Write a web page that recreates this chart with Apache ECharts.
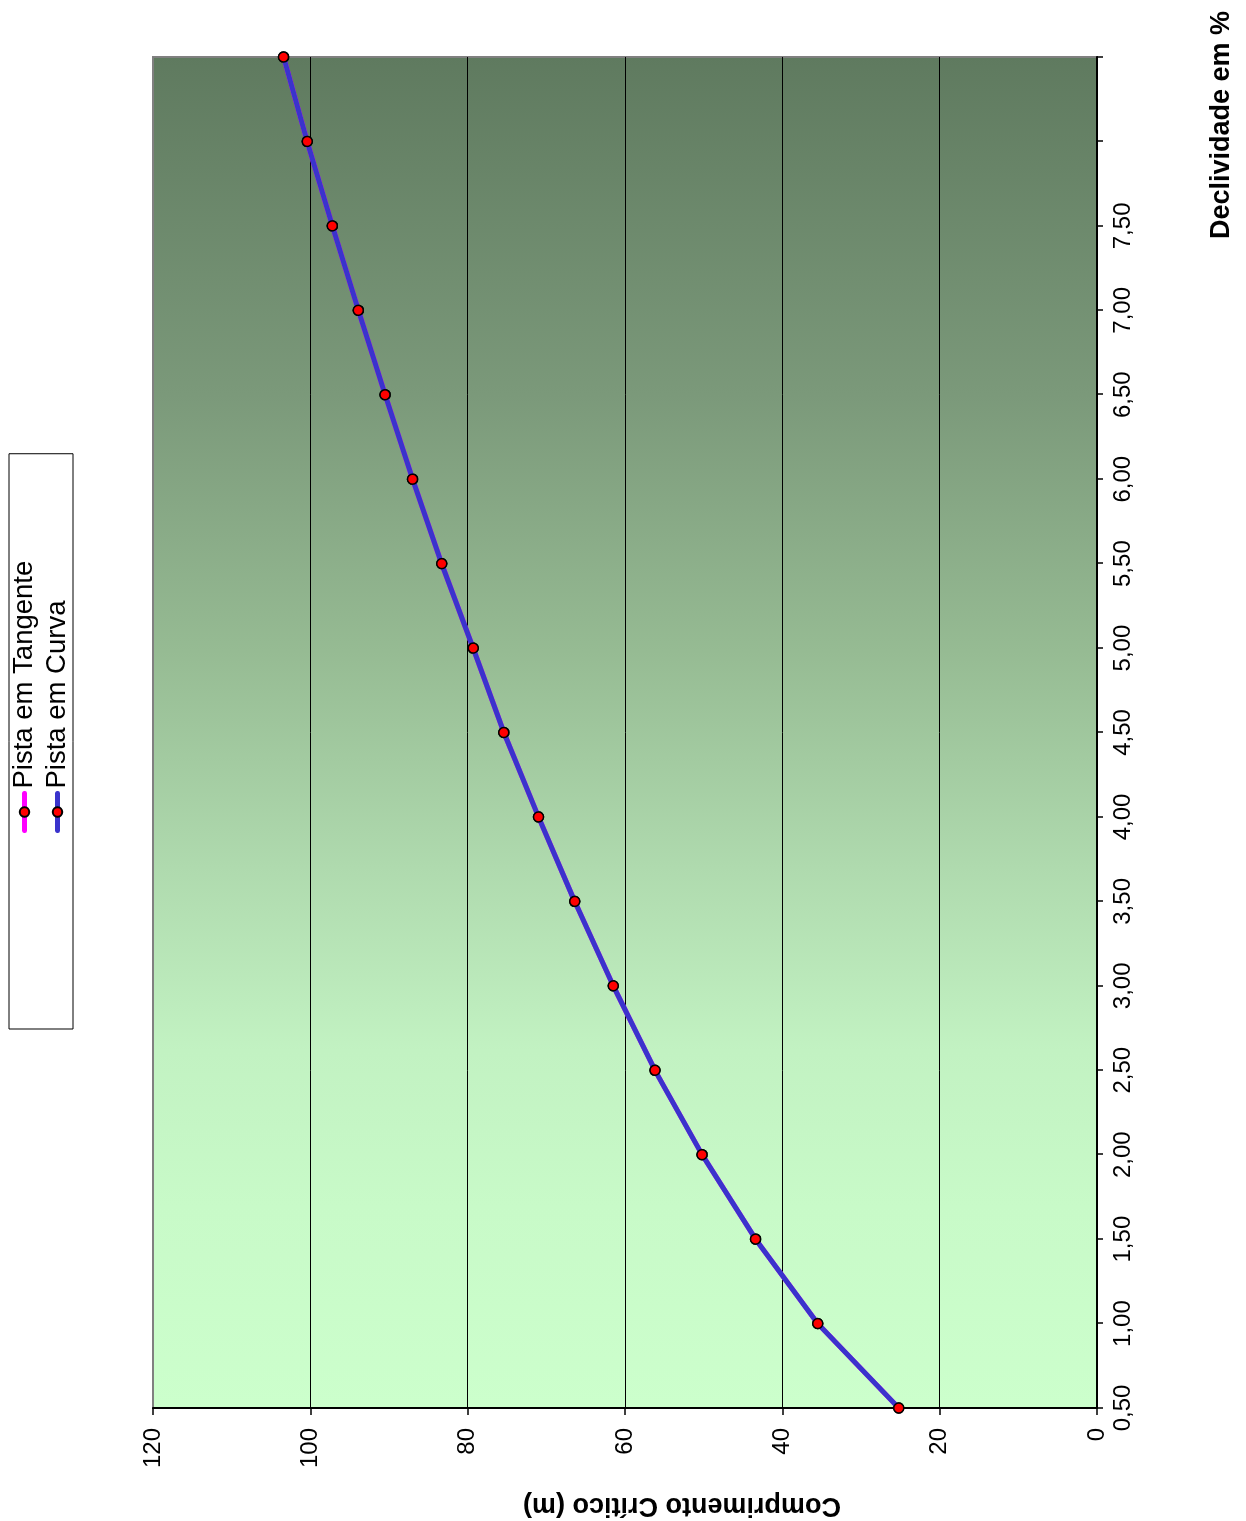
<!DOCTYPE html>
<html>
<head>
<meta charset="utf-8">
<script src="https://cdn.jsdelivr.net/npm/echarts@6/dist/echarts.min.js"></script>
<style>
  html, body { margin: 0; padding: 0; width: 1246px; height: 1521px; overflow: hidden; background: #ffffff; }
  /* the chart is laid out landscape and turned a quarter turn counter-clockwise onto the page */
  #chart {
    position: absolute; left: 0; top: 0;
    width: 1521px; height: 1246px;
    transform-origin: 0 0;
    transform: translate(0, 1521px) rotate(-90deg);
  }
</style>
</head>
<body>
<div id="chart"></div>
<script>
// Declividade (%) – the last two positions carry no label
const declividade = ['0,50', '1,00', '1,50', '2,00', '2,50', '3,00', '3,50', '4,00',
                     '4,50', '5,00', '5,50', '6,00', '6,50', '7,00', '7,50', '', ''];

// Comprimento crítico (m)
const pistaTangente = [25.2, 35.5, 43.4, 50.2, 56.2, 61.5, 66.4, 71.0,
                       75.4, 79.3, 83.3, 87.0, 90.5, 93.9, 97.2, 100.4, 103.4];
const pistaCurva    = [25.2, 35.5, 43.4, 50.2, 56.2, 61.5, 66.4, 71.0,
                       75.4, 79.3, 83.3, 87.0, 90.5, 93.9, 97.2, 100.4, 103.4];

const valueMin = 0, valueMax = 120, valueStep = 20;

const FONT = '"Liberation Sans", Arial, Helvetica, sans-serif';

const chart = echarts.init(document.getElementById('chart'), null, { renderer: 'canvas' });

const markerStyle = { color: '#ff0000', borderColor: '#000000', borderWidth: 1.5 };

chart.setOption({
  animation: false,
  backgroundColor: '#ffffff',
  grid: {
    left: 113, right: 57, top: 153, bottom: 149,
    show: true,
    borderColor: '#808080',
    borderWidth: 2,
    backgroundColor: {
      type: 'linear', x: 0, y: 0, x2: 1, y2: 0,
      colorStops: [
        { offset: 0.00, color: '#ccffcc' },
        { offset: 0.15, color: '#c8fac8' },
        { offset: 0.265, color: '#c2f2c2' },
        { offset: 0.40, color: '#afdaae' },
        { offset: 0.56, color: '#96bb93' },
        { offset: 0.75, color: '#7b997a' },
        { offset: 1.00, color: '#5f7a5f' }
      ]
    }
  },
  legend: {
    orient: 'vertical',
    left: 492, top: 9,
    padding: [0, 107, 0, 196],
    borderColor: '#000000', borderWidth: 1,
    itemWidth: 37, itemHeight: 12, itemGap: 2,
    lineStyle: { width: 5, cap: 'round' },
    textStyle: { fontFamily: FONT, fontSize: 27.5, lineHeight: 31, color: '#000000' },
    data: ['Pista em Tangente', 'Pista em Curva']
  },
  xAxis: {
    type: 'category',
    data: declividade,
    boundaryGap: false,
    axisLine: { show: true, lineStyle: { color: '#000000', width: 2 } },
    axisTick: { show: true, inside: false, length: 6, interval: 0, lineStyle: { color: '#000000', width: 1.5 } },
    axisLabel: { interval: 0, margin: 14, fontFamily: FONT, fontSize: 24, color: '#000000' },
    splitLine: { show: false }
  },
  yAxis: {
    type: 'value',
    min: valueMin, max: valueMax, interval: valueStep,
    axisLine: { show: true, lineStyle: { color: '#000000', width: 2 } },
    axisTick: { show: true, inside: false, length: 7, lineStyle: { color: '#000000', width: 1.5 } },
    axisLabel: { margin: 20, fontFamily: FONT, fontSize: 24, color: '#000000' },
    splitLine: { show: true, showMaxLine: false, lineStyle: { color: '#000000', width: 1 } }
  },
  series: [
    {
      name: 'Pista em Tangente',
      type: 'line',
      data: pistaTangente,
      symbol: 'circle', symbolSize: 10,
      lineStyle: { color: '#ff00ff', width: 5 },
      itemStyle: markerStyle,
      z: 2
    },
    {
      name: 'Pista em Curva',
      type: 'line',
      data: pistaCurva,
      symbol: 'circle', symbolSize: 10,
      lineStyle: { color: '#3a33cc', width: 5 },
      itemStyle: markerStyle,
      z: 3
    }
  ],
  graphic: [
    {
      type: 'text',
      x: 16, y: 682,
      rotation: Math.PI / 2,
      style: {
        text: 'Comprimento Crítico (m)',
        fontFamily: FONT, fontSize: 27, fontWeight: 'bold',
        fill: '#000000', textAlign: 'center', textVerticalAlign: 'middle'
      }
    },
    {
      type: 'text',
      x: 1396, y: 1222,
      style: {
        text: 'Declividade em %',
        fontFamily: FONT, fontSize: 27, fontWeight: 'bold',
        fill: '#000000', textAlign: 'center', textVerticalAlign: 'middle'
      }
    }
  ]
});
</script>
</body>
</html>
